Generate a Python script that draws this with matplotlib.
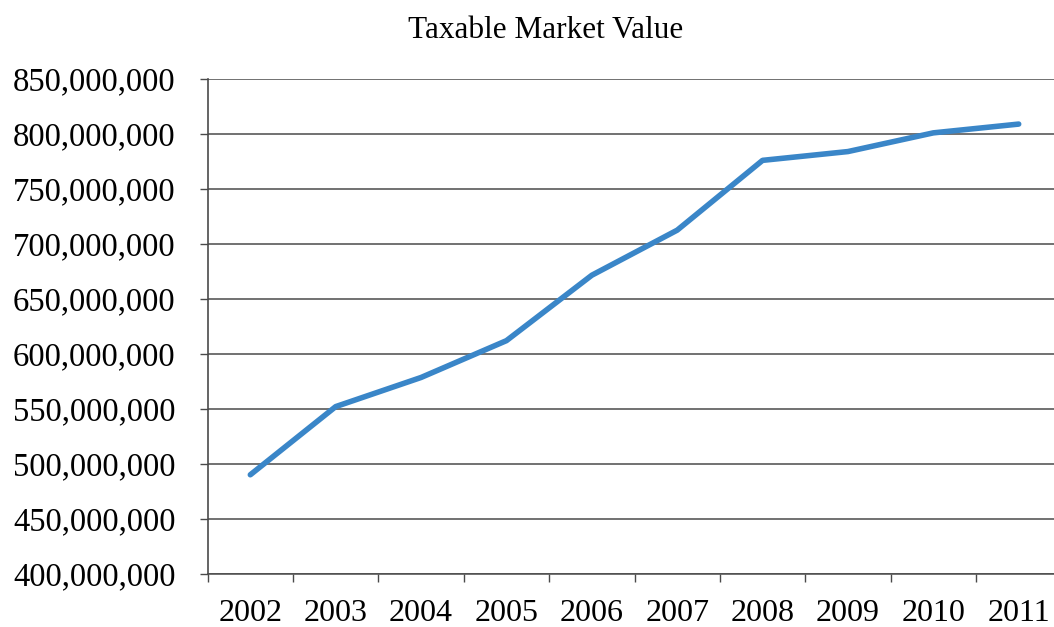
import matplotlib.pyplot as plt
from matplotlib.ticker import FuncFormatter

years = ['2002', '2003', '2004', '2005', '2006', '2007', '2008', '2009', '2010', '2011']
values = [490, 552, 578.5, 612, 671.5, 712.5, 776, 784, 801, 809]  # millions
values = [v * 1e6 for v in values]

plt.rcParams['font.family'] = ['Liberation Serif', 'DejaVu Serif']

fig = plt.figure(figsize=(10.54, 6.27), dpi=100)
ax = fig.add_axes([0.197, 0.085, 0.81, 0.789])

x = list(range(len(years)))
ax.plot(x, values, color='#3a86c8', linewidth=4, solid_capstyle='round', solid_joinstyle='round')

ax.set_xlim(-0.5, len(years) - 0.5)
ax.set_ylim(400e6, 850e6)
ax.set_yticks([400e6 + 50e6 * i for i in range(10)])
ax.yaxis.set_major_formatter(FuncFormatter(lambda v, p: '{:,.0f}'.format(v)))
ax.grid(axis='y', color='#4a4a4a', linewidth=1.1)
ax.set_axisbelow(True)

ax.set_xticks(x)
ax.set_xticklabels(years)
ax.set_xticks([i - 0.5 for i in range(len(years) + 1)], minor=True)
ax.tick_params(axis='x', which='major', length=0, pad=18, labelsize=23)
ax.tick_params(axis='x', which='minor', length=6, width=1, color='#4a4a4a')
ax.tick_params(axis='y', length=6, width=1, color='#4a4a4a', pad=17, labelsize=23.5)

for s in ['top', 'right']:
    ax.spines[s].set_visible(False)
ax.spines['left'].set_color('#4a4a4a')
ax.spines['bottom'].set_color('#4a4a4a')
ax.spines['left'].set_linewidth(1.2)
ax.spines['bottom'].set_linewidth(1.1)

fig.text(0.518, 0.952, 'Taxable Market Value', ha='center', va='center', fontsize=22.5)

fig.savefig('out.png', dpi=100)
